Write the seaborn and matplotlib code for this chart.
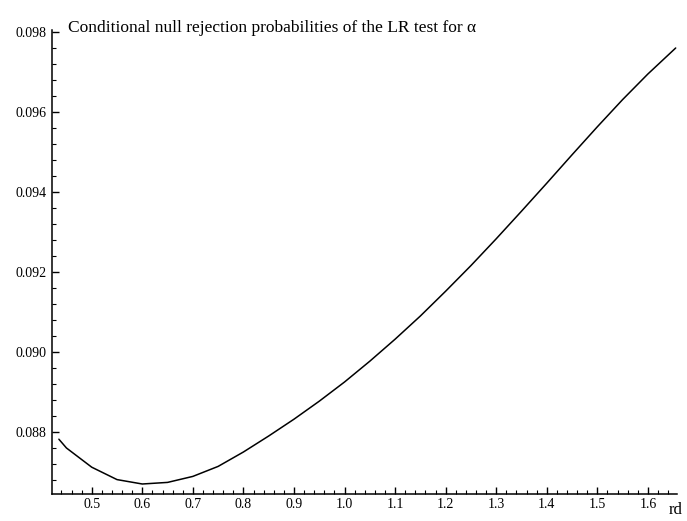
import numpy as np
import pandas as pd
import matplotlib
matplotlib.use("Agg")
import matplotlib.pyplot as plt
from matplotlib.ticker import MultipleLocator, FixedLocator
import seaborn as sns

# Conditional null rejection probability of the LR test as a function of rd
rd = [0.435, 0.45, 0.50, 0.55, 0.60, 0.65, 0.70, 0.75, 0.80, 0.85, 0.90,
      0.95, 1.00, 1.05, 1.10, 1.15, 1.20, 1.25, 1.30, 1.35, 1.40, 1.45,
      1.50, 1.55, 1.60, 1.655]
prob = [0.08782, 0.08760, 0.08712, 0.08681, 0.08670, 0.08674, 0.08689,
        0.08714, 0.08750, 0.08790, 0.08832, 0.08877, 0.08925, 0.08977,
        0.09032, 0.09090, 0.09152, 0.09216, 0.09283, 0.09352, 0.09422,
        0.09493, 0.09563, 0.09631, 0.09695, 0.09760]

x_ticks = [0.5, 0.6, 0.7, 0.8, 0.9, 1.0, 1.1, 1.2, 1.3, 1.4, 1.5, 1.6]
x_labels = ["0.5", "0.6", "0.7", "0.8", "0.9", "1.0", "1.1", "1.2", "1.3",
            "1.4", "1.5", "1.6"]
y_ticks = [0.088, 0.090, 0.092, 0.094, 0.096, 0.098]
y_labels = ["0.088", "0.090", "0.092", "0.094", "0.096", "0.098"]

title = "Conditional null rejection probabilities of the LR test for α"
x_name = "rd"

sns.set_style("white")
plt.rcParams["font.family"] = ["Liberation Serif", "DejaVu Serif"]

df = pd.DataFrame({"rd": rd, "prob": prob})

fig = plt.figure(figsize=(6.87, 5.21), dpi=100)
ax = fig.add_axes([52.3 / 687, 1 - 494 / 521, (676.7 - 52.3) / 687, (494 - 30) / 521])

sns.lineplot(data=df, x="rd", y="prob", ax=ax, color="black", linewidth=1.1)

ax.set_xlim(0.422, 1.657)
ax.set_ylim(0.08645, 0.09805)

for side in ("top", "right"):
    ax.spines[side].set_visible(False)
for side in ("left", "bottom"):
    ax.spines[side].set_color("black")
    ax.spines[side].set_linewidth(1.1)

ax.xaxis.set_major_locator(FixedLocator(x_ticks))
ax.set_xticklabels(x_labels)
ax.yaxis.set_major_locator(FixedLocator(y_ticks))
ax.set_yticklabels(y_labels)
ax.xaxis.set_minor_locator(MultipleLocator(0.02))
ax.yaxis.set_minor_locator(MultipleLocator(0.0004))

ax.tick_params(axis="both", which="major", direction="in", length=5,
               width=1.0, color="black", labelsize=10, labelcolor="black")
ax.tick_params(axis="both", which="minor", direction="in", length=3,
               width=0.8, color="black")
ax.tick_params(axis="x", which="major", pad=3)
ax.tick_params(axis="y", which="major", pad=4)
ax.tick_params(bottom=True, left=True, which="both")

ax.set_xlabel("")
ax.set_ylabel("")
ax.grid(False)

fig.text(68 / 687, 1 - 28 / 521, title, fontsize=12.5, color="black",
         ha="left", va="center")
fig.text(676 / 687, 1 - 510 / 521, x_name, fontsize=12, color="black",
         ha="center", va="center")

fig.savefig("out.png", dpi=100, facecolor="white")
